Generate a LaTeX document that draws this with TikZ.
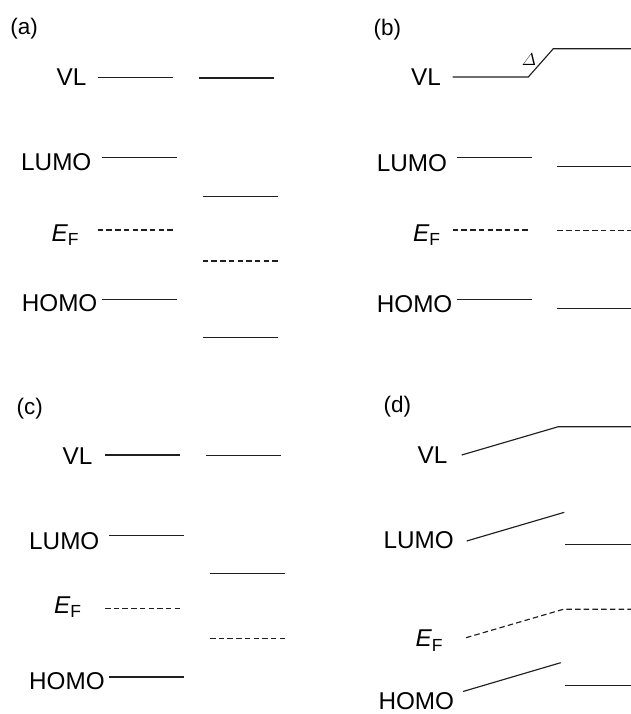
\documentclass[tikz,border=0pt]{standalone}
\usepackage{amsmath}
\usepackage{fontspec}
\setmainfont{Liberation Sans}
% Fermi level symbol: italic E with upright subscript F
\newcommand{\fermiE}{\textit{E}\raisebox{-4.5pt}{\fontsize{17.5}{20}\selectfont F}}
\tikzset{
  lvl/.style={line width=1.15pt, black!88},
  fermi/.style={lvl, dash pattern=on 5.5pt off 3.2pt},
  lab/.style={anchor=base west, inner sep=0pt, font=\fontsize{24.3}{28}\selectfont},
  tag/.style={anchor=base west, inner sep=0pt, font=\fontsize{22.5}{26}\selectfont},
}
\begin{document}
\begin{tikzpicture}[x=1pt,y=-1pt]
\useasboundingbox (0,0) rectangle (631,714);

% ---------------- (a) ----------------
\node[tag] (ta) at (10.2,34.7) {(a)};
\node[lab] (vla) at (56.5,86) {VL};
\node[lab] (lua) at (21,171) {LUMO};
\node[lab] (efa) at (51.3,241) {\fermiE};
\node[lab] (hoa) at (21.6,311.7) {HOMO};
\draw[lvl] (97.7,77.3) -- (173.3,77.3);
\draw[lvl] (199,78) -- (274,78);
\draw[lvl] (101.7,157.7) -- (177,157.7);
\draw[lvl] (202.7,196.3) -- (278.3,196.3);
\draw[fermi] (97.7,230) -- (175,230);
\draw[fermi] (202.7,261) -- (279.3,261);
\draw[lvl] (101.7,299.3) -- (177,299.3);
\draw[lvl] (202.7,337.7) -- (278.3,337.7);

% ---------------- (b) ----------------
\node[tag] (tb) at (373.5,35.5) {(b)};
\node[lab] (vlb) at (411,86) {VL};
\node[lab] (lub) at (376.6,171.7) {LUMO};
\node[lab] (efb) at (412.8,241) {\fermiE};
\node[lab] (hob) at (376.6,312) {HOMO};
\node[inner sep=0pt, font=\fontsize{18.5}{22}\selectfont] (dlt) at (529,59.5) {$\varDelta$};
\draw[lvl] (452.7,77) -- (528.3,77) -- (553.3,48.7) -- (631,48.7);
\draw[lvl] (456.7,157.7) -- (532.3,157.7);
\draw[lvl] (557.3,166.7) -- (631,166.7);
\draw[fermi] (452.7,230) -- (529.3,230);
\draw[fermi] (557.3,230.7) -- (631,230.7);
\draw[lvl] (456.7,299.3) -- (532.3,299.3);
\draw[lvl] (557.3,308.3) -- (631,308.3);

% ---------------- (c) ----------------
\node[tag] (tc) at (16.5,414) {(c)};
\node[lab] (vlc) at (62.5,464) {VL};
\node[lab] (luc) at (29,549.3) {LUMO};
\node[lab] (efc) at (53.8,613) {\fermiE};
\node[lab] (hoc) at (29,689.3) {HOMO};
\draw[lvl] (105,455) -- (180,455);
\draw[lvl] (206,455.7) -- (281,455.7);
\draw[lvl] (109,535.3) -- (184.3,535.3);
\draw[lvl] (210,573.7) -- (285.3,573.7);
\draw[fermi] (105,608.7) -- (181.7,608.7);
\draw[fermi] (210,638.7) -- (286.7,638.7);
\draw[lvl] (109,677) -- (184.3,677);

% ---------------- (d) ----------------
\node[tag] (td) at (383.5,412) {(d)};
\node[lab] (vld) at (417.5,463.3) {VL};
\node[lab] (lud) at (383.3,548.3) {LUMO};
\node[lab] (efd) at (415.3,646.7) {\fermiE};
\node[lab] (hod) at (378.3,709.8) {HOMO};
\draw[lvl] (461.7,455) -- (558.3,426.7) -- (631,426.7);
\draw[lvl] (466.7,541) -- (564.3,512.3);
\draw[lvl] (565,544.3) -- (631,544.3);
\draw[fermi] (466,637.7) -- (563.3,609.3) -- (631,609.3);
\draw[lvl] (463,691.5) -- (560.7,662.7);
\draw[lvl] (565,685.7) -- (631,685.7);
\end{tikzpicture}
\end{document}
